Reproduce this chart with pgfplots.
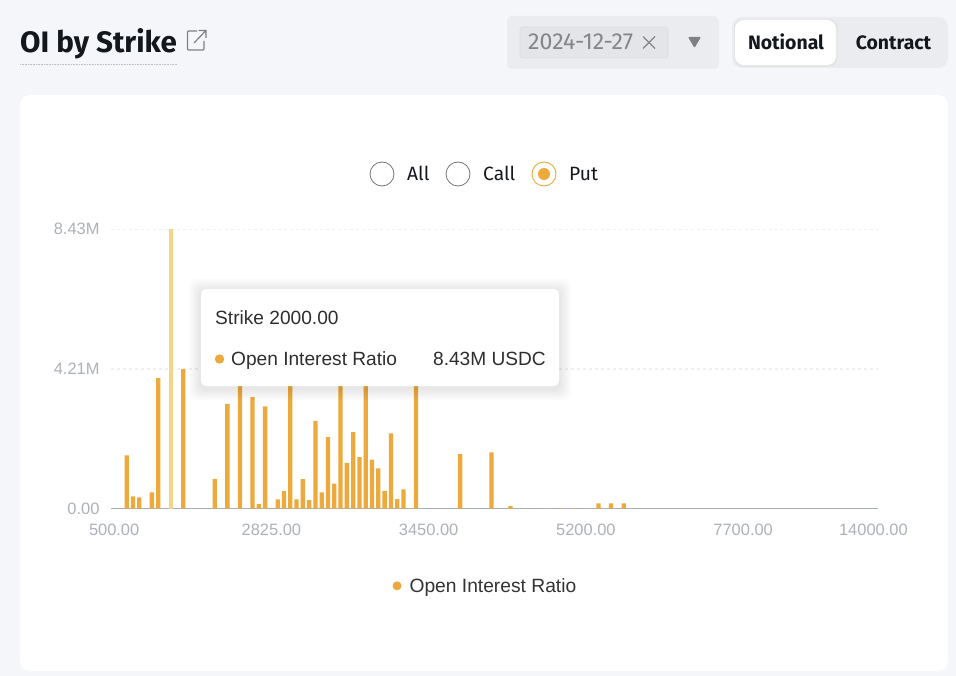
\documentclass[border=0pt]{standalone}
\usepackage{fontspec}
\usepackage{pgfplots}
\pgfplotsset{compat=1.18}
\setmainfont{Liberation Sans}
\newfontfamily\plex{Fira Sans}
\definecolor{pagebg}{HTML}{F5F6FA}
\definecolor{panel}{HTML}{EAECF0}
\definecolor{barc}{HTML}{EDA93B}
\definecolor{barhi}{HTML}{F3D588}
\definecolor{tickc}{HTML}{ADB1B8}
\definecolor{axisc}{HTML}{A9AEBB}
\definecolor{gridc}{HTML}{EEF0F3}
\definecolor{ink}{HTML}{14171C}
\newcommand{\fs}[1]{\fontsize{#1}{#1}\selectfont}
\begin{document}
\begin{tikzpicture}[x=1bp,y=-1bp]
\path[use as bounding box] (0,0) rectangle (956,676);
\fill[pagebg] (0,0) rectangle (956,676);
% header
\node[anchor=base west,inner sep=0,text=ink] at (20,53) {\plex\bfseries\fs{29.7}OI by Strike};
\draw[densely dotted,line width=0.6bp,color=black!25] (20,64) -- (177,64);
\draw[color=black!50,line width=1.2bp,rounded corners=1bp] (197,31) -- (187.5,31) -- (187.5,50) -- (204,50) -- (204,41);
\draw[color=black!50,line width=1.2bp] (194,43) -- (206,30.5) (198.5,30.5) -- (206,30.5) -- (206,38);
\fill[panel,rounded corners=5bp] (507,16) rectangle (719,69);
\filldraw[fill=black!3!panel,draw=black!13,line width=0.8bp,rounded corners=3bp] (520,27) rectangle (668,58);
\node[anchor=base west,inner sep=0,text=black!48] at (528,49.5) {\plex\fs{23.2}2024-12-27};
\draw[black!48,line width=1.1bp] (643,36.5) -- (655,48.5) (655,36.5) -- (643,48.5);
\fill[black!50,rounded corners=1bp] (688,37) -- (701,37) -- (694.5,48) -- cycle;
\fill[panel,rounded corners=10bp] (732,17) rectangle (948,68);
\fill[black!10,rounded corners=9bp] (734,19) rectangle (838,67);
\fill[white,rounded corners=9bp] (735,20) rectangle (836,65);
\node[anchor=base,inner sep=0,text=ink] at (786,50) {\plex\bfseries\fs{19.5}Notional};
\node[anchor=base,inner sep=0,text=ink] at (893.5,50) {\plex\bfseries\fs{19.5}Contract};
% card
\fill[white,rounded corners=10bp] (20,95) rectangle (948,671);
% radios
\draw[black!55,line width=0.8bp] (382,174) circle (12);
\draw[black!55,line width=0.8bp] (458,174) circle (12);
\draw[barc,line width=0.9bp] (544,174) circle (12);
\fill[barc] (544,174) circle (6);
\node[anchor=base west,inner sep=0,text=ink] at (407,181) {\plex\fs{19.3}All};
\node[anchor=base west,inner sep=0,text=ink] at (483,181) {\plex\fs{19.3}Call};
\node[anchor=base west,inner sep=0,text=ink] at (569,181) {\plex\fs{19.3}Put};
% chart
\begin{axis}[
  at={(111bp,-508.7bp)},anchor=south west,
  scale only axis,width=767.4bp,height=279.4bp,
  xmin=-0.5,xmax=121.5,ymin=0,ymax=8.43,
  axis x line=bottom,axis y line=left,
  axis line style={-},
  x axis line style={color=axisc,line width=1.2bp},
  y axis line style={draw=none},
  major tick length=0pt,
  xtick={0,25,50,75,100,120.7},
  xticklabels={500.00,2825.00,3450.00,5200.00,7700.00,14000.00},
  ytick={0,4.215,8.43},
  yticklabels={0.00,4.21M,8.43M},
  tick label style={color=tickc,font=\fs{16.5}},
  xticklabel style={yshift=-11.5bp},
  yticklabel style={xshift=-8bp},
  ymajorgrids,
  grid style={dashed,color=gridc,line width=1.2bp},
  ybar,bar width=4.3bp,
  clip=false,
  legend style={at={(0.4879,-0.276)},anchor=center,draw=none,fill=none,font=\fs{19.3},text=black!80,
    /tikz/every even column/.append style={column sep=0pt}},
  legend cell align=left,
  legend image code/.code={\fill[barc] (0,0) circle (4.5bp);\path (10.5bp,0);},
]
\addplot[bar shift=0pt,fill=barc,draw=none] coordinates {
(2,1.61)(3,0.37)(4,0.34)(6,0.49)(7,3.94)(11,4.21)(16,0.90)(18,3.16)(20,3.90)
(22,3.37)(23,0.14)(24,3.09)(25,0.01)(26,0.28)(27,0.53)(28,3.85)(29,0.28)(30,0.89)
(31,0.26)(32,2.64)(33,0.49)(34,2.16)(35,0.76)(36,3.90)(37,1.38)(38,2.31)(39,1.56)
(40,3.90)(41,1.48)(42,1.22)(43,0.53)(44,2.27)(45,0.29)(46,0.58)(47,0.01)(48,3.90)
(55,1.65)(60,1.70)(63,0.08)(67,0.01)(69,0.01)(71,0.01)(73,0.01)(75,0.01)
(77,0.16)(79,0.16)(81,0.16)};
\addlegendentry{Open Interest Ratio}
\addplot[forget plot,bar shift=0pt,fill=barhi,draw=none] coordinates {(9,8.43)};
\end{axis}
% tooltip
\foreach \g in {12,10,8,6,4,2}{
  \fill[black,opacity=0.016,rounded corners=7bp] (201-\g,289-\g+2) rectangle (559+\g,386+\g+2);
}
\fill[white,rounded corners=5bp] (201,289) rectangle (559,386);
\node[anchor=base west,inner sep=0,text=black!82] at (215,324) {\fs{19.2}Strike 2000.00};
\fill[barc] (219.5,359) circle (4.7);
\node[anchor=base west,inner sep=0,text=black!82] at (231,365) {\fs{19.2}Open Interest Ratio};
\node[anchor=base east,inner sep=0,text=black!82] at (546,365) {\fs{19.2}8.43M USDC};
\end{tikzpicture}
\end{document}
